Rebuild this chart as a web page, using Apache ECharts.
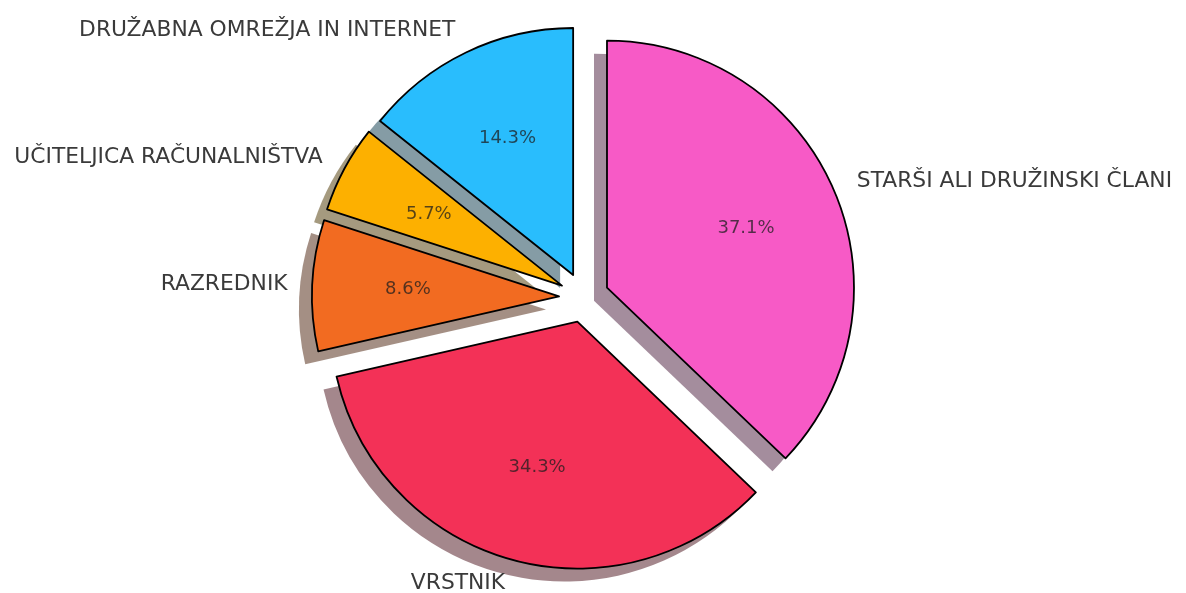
<!DOCTYPE html>
<html>
<head>
<meta charset="utf-8">
<script src="https://cdn.jsdelivr.net/npm/echarts@6/dist/echarts.min.js"></script>
<style>
  html, body { margin: 0; padding: 0; background: #fff; }
  #chart { width: 1186px; height: 593px; }
</style>
</head>
<body>
<div id="chart"></div>
<script>
// podatki
var categories = ["STARŠI ALI DRUŽINSKI ČLANI", "VRSTNIK", "RAZREDNIK", "UČITELJICA RAČUNALNIŠTVA", "DRUŽABNA OMREŽJA IN INTERNET"];
var counts = [13, 12, 3, 2, 5];
var sliceColors = ["#f75ac6", "#f33157", "#f26b21", "#fdb000", "#29bdfd"];

var cx = 584, cy = 297.5, R = 247;
var explode = 25;
var font = "DejaVu Sans";

// matplotlib style shadow: 0.3 * colour, alpha 0.5
function shade(hex) {
  var r = parseInt(hex.substr(1, 2), 16), g = parseInt(hex.substr(3, 2), 16), b = parseInt(hex.substr(5, 2), 16);
  return "rgba(" + Math.round(r * 0.3) + "," + Math.round(g * 0.3) + "," + Math.round(b * 0.3) + ",0.5)";
}

function items(colorFn) {
  return categories.map(function (name, i) {
    return { name: name, value: counts[i], selected: true, itemStyle: { color: colorFn(i) } };
  });
}

var common = {
  type: "pie",
  startAngle: 90,
  clockwise: true,
  radius: [0, R],
  selectedMode: "multiple",
  selectedOffset: explode,
  avoidLabelOverlap: false,
  animation: false,
  emphasis: { disabled: true }
};

var chart = echarts.init(document.getElementById("chart"));
chart.setOption({
  animation: false,
  series: [
    Object.assign({}, common, {
      name: "senca",
      z: 1,
      silent: true,
      center: [cx - 13, cy + 13],
      label: { show: false },
      labelLine: { show: false },
      data: items(function (i) { return shade(sliceColors[i]); })
    }),
    Object.assign({}, common, {
      name: "main",
      z: 2,
      center: [cx, cy],
      itemStyle: { borderColor: "#000", borderWidth: 1.8 },
      label: {
        show: true,
        position: "outside",
        distanceToLabelLine: 0,
        fontFamily: font,
        fontSize: 21.8,
        color: "#3a3a3a",
        formatter: "{b}"
      },
      labelLine: { show: false, length: R * 0.1, length2: 0 },
      data: items(function (i) { return sliceColors[i]; })
    }),
    Object.assign({}, common, {
      name: "odstotki",
      z: 3,
      silent: true,
      center: [cx, cy],
      radius: [R * 0.2, R],
      percentPrecision: 1,
      label: {
        show: true,
        position: "inside",
        fontFamily: font,
        fontSize: 18,
        color: "rgba(30,30,30,0.75)",
        formatter: "{d}%"
      },
      labelLine: { show: false },
      data: items(function () { return "rgba(0,0,0,0)"; })
    })
  ]
});
</script>
</body>
</html>
